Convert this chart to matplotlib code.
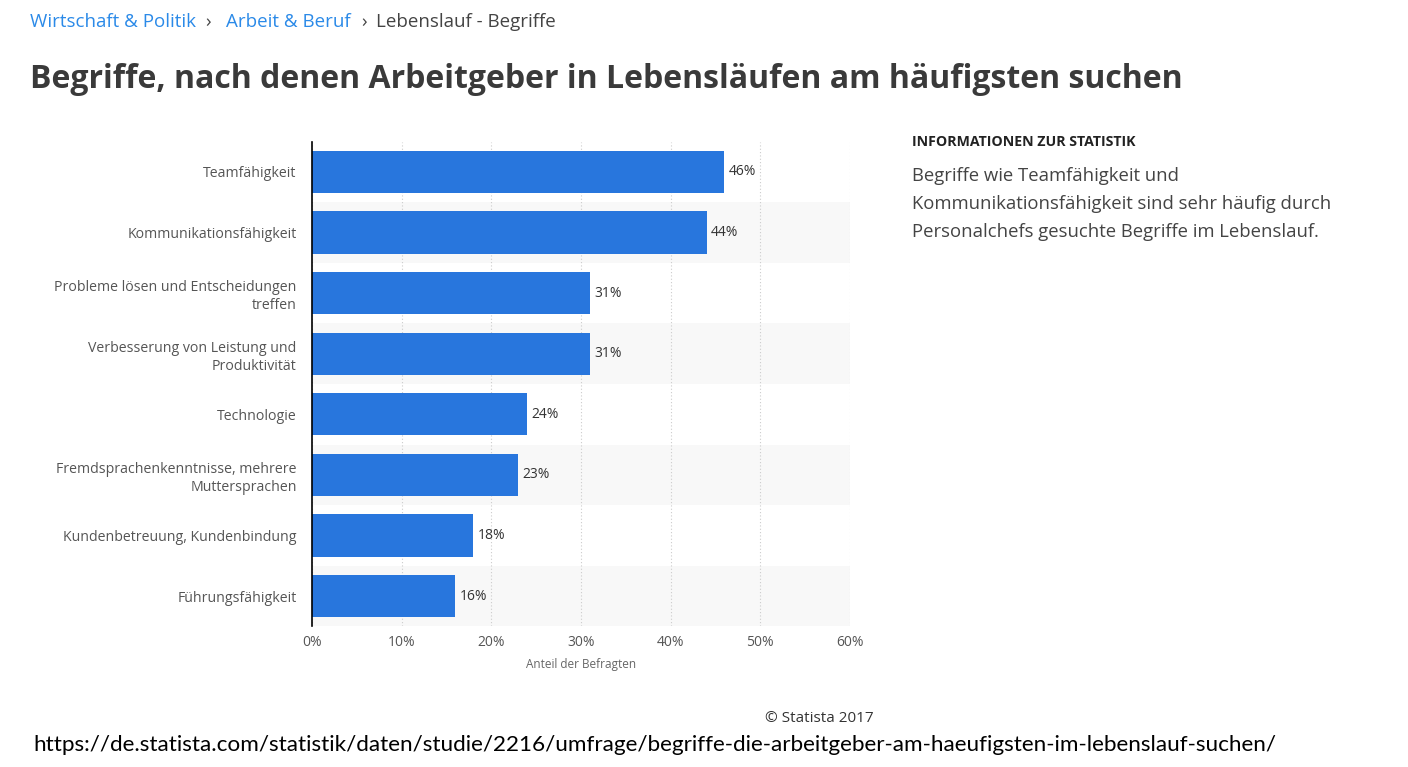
import matplotlib
matplotlib.use("Agg")
import matplotlib.pyplot as plt

categories = [
    "Teamfähigkeit",
    "Kommunikationsfähigkeit",
    "Probleme lösen und Entscheidungen\ntreffen",
    "Verbesserung von Leistung und\nProduktivität",
    "Technologie",
    "Fremdsprachenkenntnisse, mehrere\nMuttersprachen",
    "Kundenbetreuung, Kundenbindung",
    "Führungsfähigkeit",
]
values = [46, 44, 31, 31, 24, 23, 18, 16]
xticks = [0, 10, 20, 30, 40, 50, 60]
xticklabels = ["0%", "10%", "20%", "30%", "40%", "50%", "60%"]

plt.rcParams['font.family'] = ['Open Sans', 'DejaVu Sans']

W, H = 1408, 767
fig = plt.figure(figsize=(W / 100, H / 100), dpi=100)
fig.patch.set_facecolor("white")

def fx(px):
    return px / W

def fy(py):
    return 1 - py / H

ax = fig.add_axes([fx(312), fy(626.3), fx(850) - fx(312), fy(141.7) - fy(626.3)])
n = len(categories)
ypos = list(range(n))

# alternating row shading
for i in ypos:
    if i % 2 == 1:
        ax.axhspan(i - 0.5, i + 0.5, color="#f8f8f8", zorder=0, lw=0)

ax.barh(ypos, values, height=0.7, color="#2876dd", zorder=3)
for i, v in zip(ypos, values):
    ax.text(v + 0.45, i, f"{v}%", va="center", ha="left", fontsize=10, color="#333333", zorder=4)

ax.set_xlim(0, 60)
ax.set_ylim(n - 0.5, -0.5)
ax.set_yticks(ypos)
ax.set_yticklabels(categories, fontsize=10.2, color="#555555", linespacing=1.3)
ax.set_xticks(xticks)
ax.set_xticklabels(xticklabels, fontsize=10, color="#555555")
ax.tick_params(axis="x", length=0, pad=6)
ax.tick_params(axis="y", length=0, pad=11)
for t in ax.get_yticklabels():
    t.set_horizontalalignment("right")

ax.grid(axis="x", color="#cccccc", linestyle=(0, (1, 2)), linewidth=0.8, zorder=1)
ax.set_axisbelow(True)
for s in ["top", "right", "bottom"]:
    ax.spines[s].set_visible(False)
ax.spines["left"].set_color("#000000")
ax.spines["left"].set_linewidth(1.2)
ax.spines["left"].set_zorder(5)
ax.set_facecolor("none")
ax.set_xlabel("Anteil der Befragten", fontsize=8.5, color="#666666", labelpad=6)

# breadcrumbs
bc_y = fy(22)
fig.text(fx(30), bc_y, "Wirtschaft & Politik", fontsize=13.5, color="#2b8ae8", va="center", ha="left")
fig.text(fx(205), bc_y, "›", fontsize=13.5, color="#444444", va="center", ha="left")
fig.text(fx(226), bc_y, "Arbeit & Beruf", fontsize=13.5, color="#2b8ae8", va="center", ha="left")
fig.text(fx(361), bc_y, "›", fontsize=13.5, color="#444444", va="center", ha="left")
fig.text(fx(376), bc_y, "Lebenslauf - Begriffe", fontsize=13.5, color="#444444", va="center", ha="left")

# title
fig.text(fx(30), fy(80), "Begriffe, nach denen Arbeitgeber in Lebensläufen am häufigsten suchen",
         fontsize=23, fontweight="bold", color="#3a3a3a", va="center", ha="left")

# info box
fig.text(fx(912), fy(142), "INFORMATIONEN ZUR STATISTIK", fontsize=10.2, fontweight="bold",
         color="#222222", va="center", ha="left")
info_lines = ["Begriffe wie Teamfähigkeit und",
              "Kommunikationsfähigkeit sind sehr häufig durch",
              "Personalchefs gesuchte Begriffe im Lebenslauf."]
for k, line in enumerate(info_lines):
    fig.text(fx(912), fy(176 + 28 * k), line, fontsize=13.3, color="#444444", va="center", ha="left")

# footer
fig.text(fx(874), fy(718), "© Statista 2017", fontsize=11, color="#333333", va="center", ha="right")
fig.text(fx(33), fy(745), "https://de.statista.com/statistik/daten/studie/2216/umfrage/begriffe-die-arbeitgeber-am-haeufigsten-im-lebenslauf-suchen/",
         fontsize=16.2, color="#000000", va="center", ha="left", family=["Lato", "DejaVu Sans"])

fig.savefig("out.png", dpi=100, facecolor="white")
